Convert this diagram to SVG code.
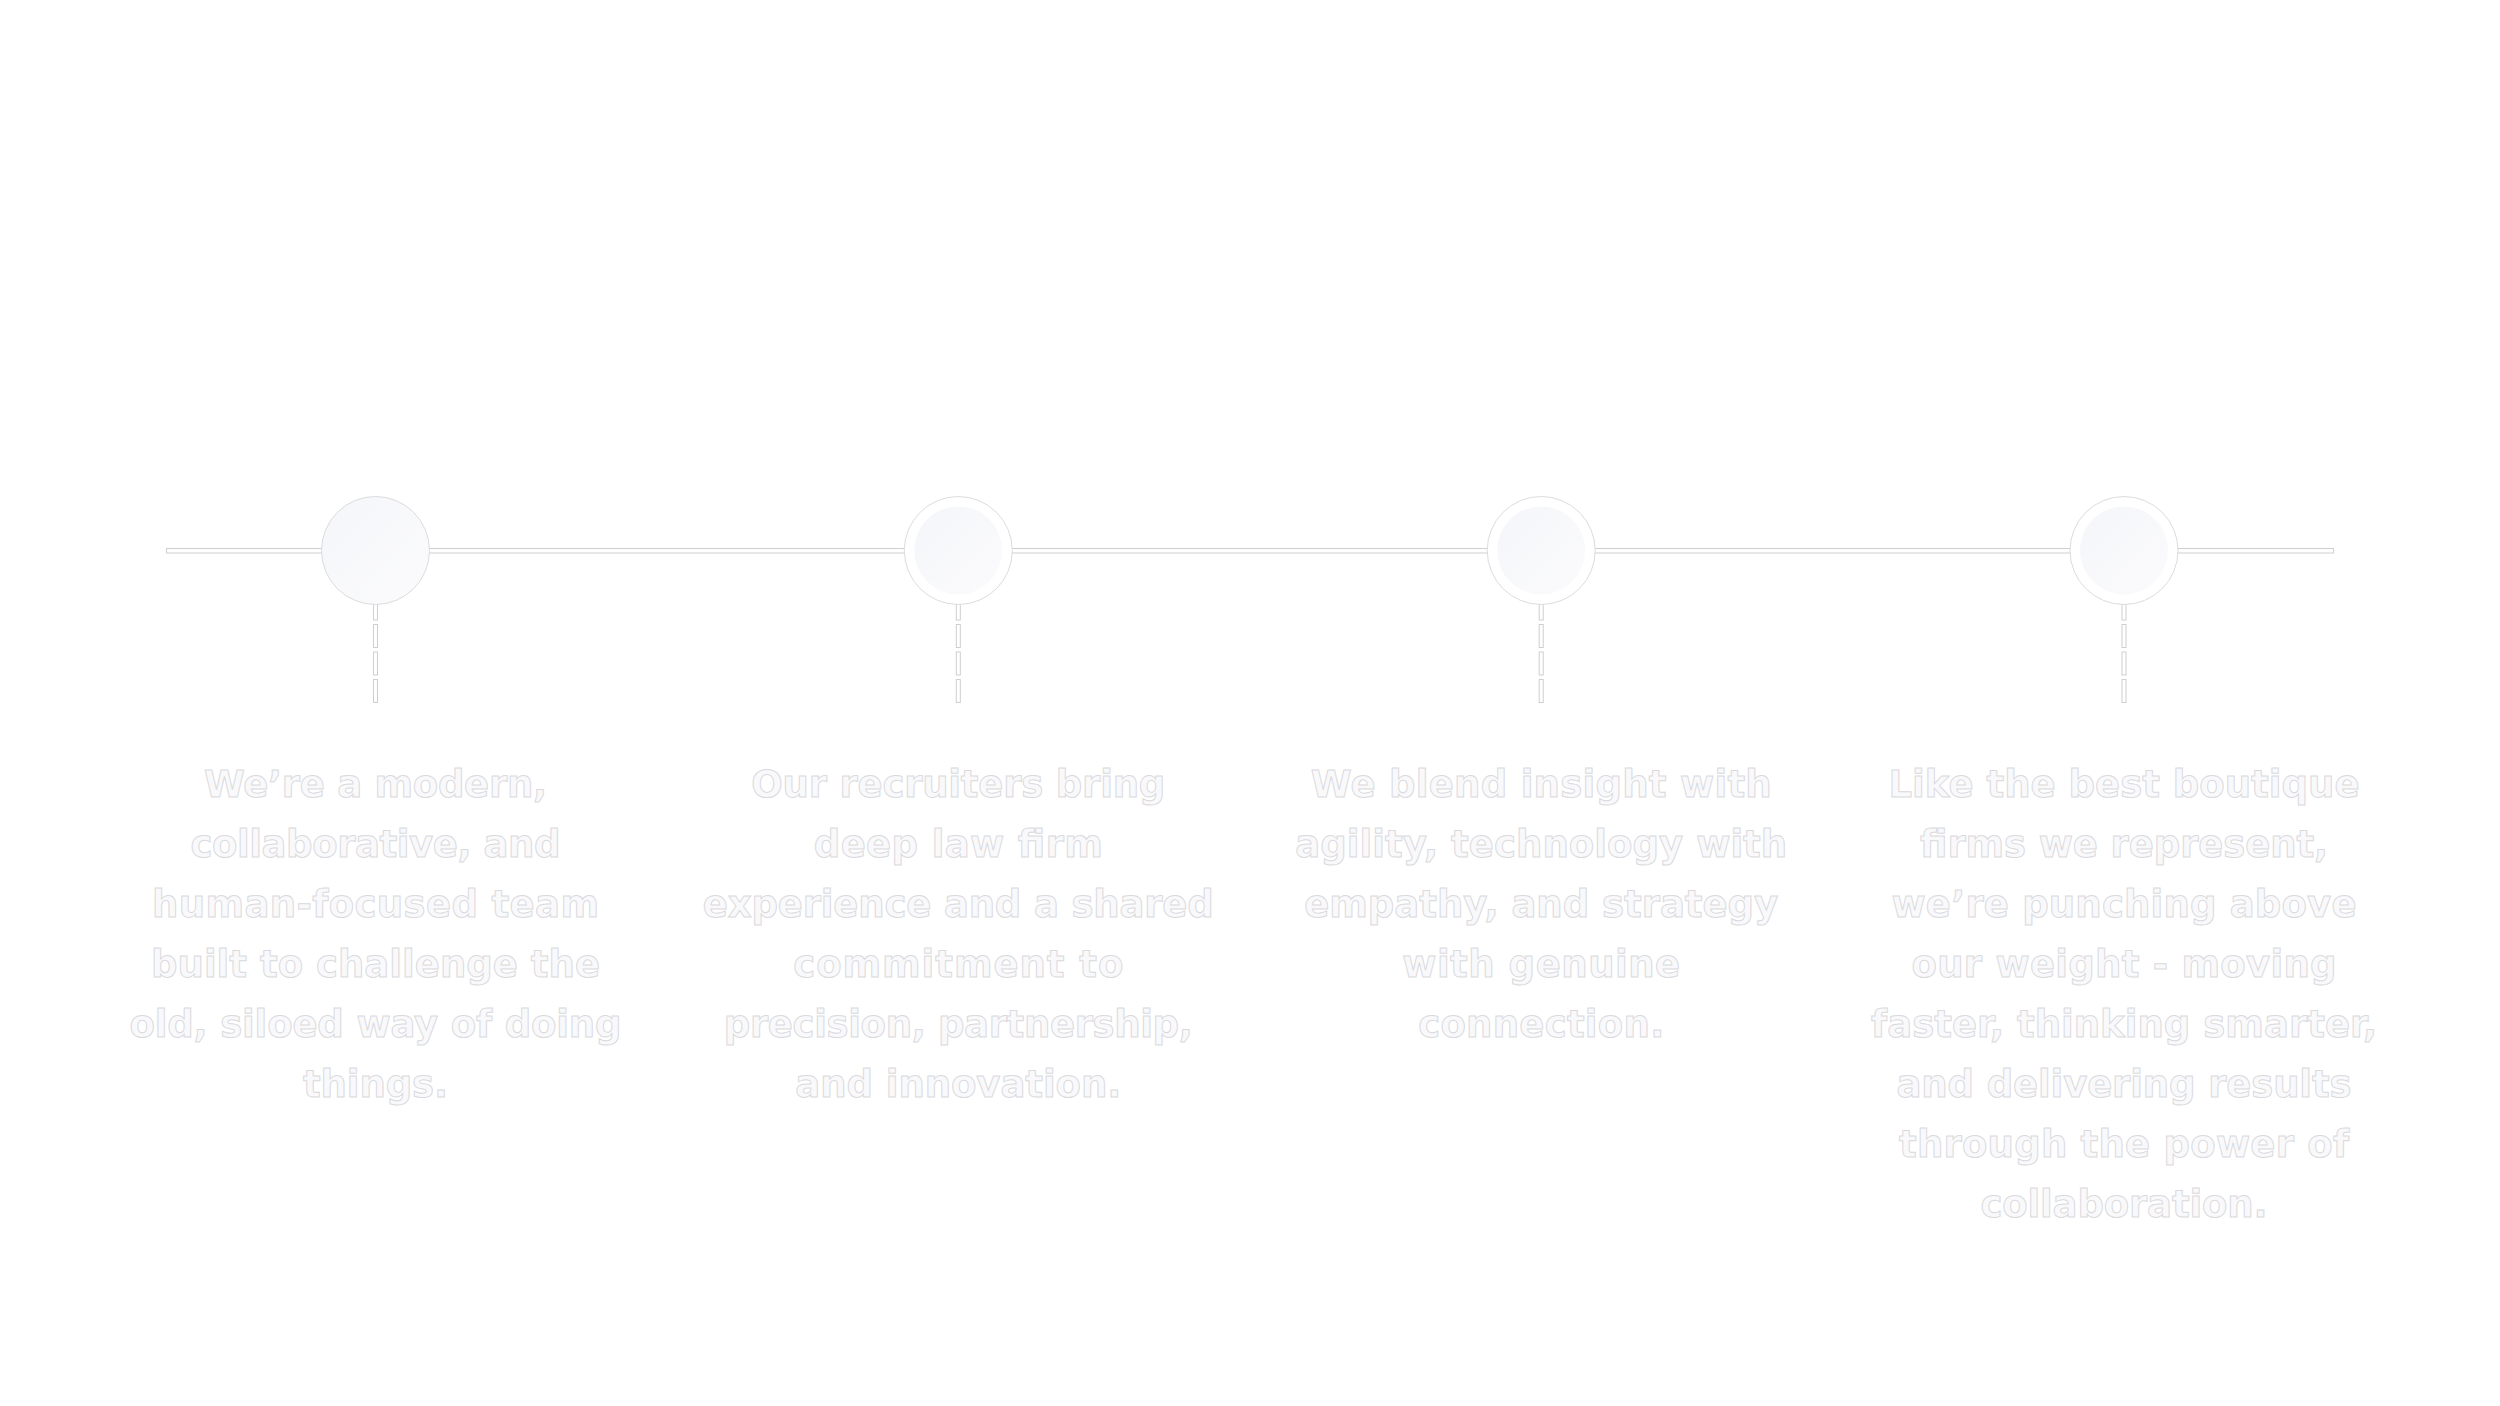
<svg xmlns="http://www.w3.org/2000/svg" width="2500" height="1406" viewBox="0 0 2500 1406">
  <defs>
    <linearGradient id="fillGrad" x1="0" y1="0" x2="1" y2="1">
      <stop offset="0" stop-color="#f5f6f9"/>
      <stop offset="1" stop-color="#fbfbfd"/>
    </linearGradient>
    <style>
      .bg { fill: #ffffff; }
      .rail { fill: #ffffff; stroke: #cfcfd2; stroke-width: 1; }
      .dash-out { fill: none; stroke: #cfcfd2; stroke-width: 5; stroke-dasharray: 24 3.5; }
      .dash-in { fill: none; stroke: #ffffff; stroke-width: 3; stroke-dasharray: 22 5.5; }
      .ring { fill: #ffffff; stroke: #dcdcdf; stroke-width: 1; }
      .ring-full { fill: url(#fillGrad); stroke: #dcdcdf; stroke-width: 1; }
      .core { fill: url(#fillGrad); }
      .t { font-family: "DejaVu Sans", "Liberation Sans", sans-serif; font-weight: 700; font-size: 37px; fill: #f9f9fb; stroke: #dadade; stroke-width: 1; text-anchor: start; }
    </style>
  </defs>
  <rect class="bg" x="0" y="0" width="2500" height="1406"/>

  <g id="connectors">
    <rect class="rail" x="166.5" y="548.5" width="2167" height="4.5"/>
    <path class="dash-out" d="M375.5 596.5 V703"/>
    <path class="dash-in" d="M375.5 597.5 V702"/>
    <path class="dash-out" d="M958.3 596.5 V703"/>
    <path class="dash-in" d="M958.3 597.5 V702"/>
    <path class="dash-out" d="M1541.2 596.5 V703"/>
    <path class="dash-in" d="M1541.2 597.5 V702"/>
    <path class="dash-out" d="M2124 596.5 V703"/>
    <path class="dash-in" d="M2124 597.5 V702"/>
  </g>

  <g id="node-1">
    <circle class="ring-full" cx="375.5" cy="550.5" r="54"/>
    <text class="t">
      <tspan x="204" y="797" textLength="343">We’re a modern,</tspan>
      <tspan x="190.5" y="857" textLength="370">collaborative, and</tspan>
      <tspan x="152" y="917" textLength="447">human-focused team</tspan>
      <tspan x="151" y="977" textLength="449">built to challenge the</tspan>
      <tspan x="129.5" y="1037" textLength="492">old, siloed way of doing</tspan>
      <tspan x="303" y="1097" textLength="145">things.</tspan>
    </text>
  </g>

  <g id="node-2">
    <circle class="ring" cx="958.3" cy="550.5" r="54"/>
    <circle class="core" cx="958.3" cy="550.5" r="44"/>
    <text class="t">
      <tspan x="751.3" y="797" textLength="414">Our recruiters bring</tspan>
      <tspan x="813.8" y="857" textLength="289">deep law firm</tspan>
      <tspan x="702.8" y="917" textLength="511">experience and a shared</tspan>
      <tspan x="793.3" y="977" textLength="330">commitment to</tspan>
      <tspan x="723.8" y="1037" textLength="469">precision, partnership,</tspan>
      <tspan x="795.3" y="1097" textLength="326">and innovation.</tspan>
    </text>
  </g>

  <g id="node-3">
    <circle class="ring" cx="1541.2" cy="550.5" r="54"/>
    <circle class="core" cx="1541.2" cy="550.5" r="44"/>
    <text class="t">
      <tspan x="1310.7" y="797" textLength="461">We blend insight with</tspan>
      <tspan x="1295.2" y="857" textLength="492">agility, technology with</tspan>
      <tspan x="1304.2" y="917" textLength="474">empathy, and strategy</tspan>
      <tspan x="1402.2" y="977" textLength="278">with genuine</tspan>
      <tspan x="1418.2" y="1037" textLength="246">connection.</tspan>
    </text>
  </g>

  <g id="node-4">
    <circle class="ring" cx="2124" cy="550.5" r="54"/>
    <circle class="core" cx="2124" cy="550.5" r="44"/>
    <text class="t">
      <tspan x="1888.5" y="797" textLength="471">Like the best boutique</tspan>
      <tspan x="1920" y="857" textLength="408">firms we represent,</tspan>
      <tspan x="1891.5" y="917" textLength="465">we’re punching above</tspan>
      <tspan x="1911.5" y="977" textLength="425">our weight - moving</tspan>
      <tspan x="1871" y="1037" textLength="506">faster, thinking smarter,</tspan>
      <tspan x="1896.5" y="1097" textLength="455">and delivering results</tspan>
      <tspan x="1899" y="1157" textLength="450">through the power of</tspan>
      <tspan x="1980.5" y="1217" textLength="287">collaboration.</tspan>
    </text>
  </g>
</svg>
